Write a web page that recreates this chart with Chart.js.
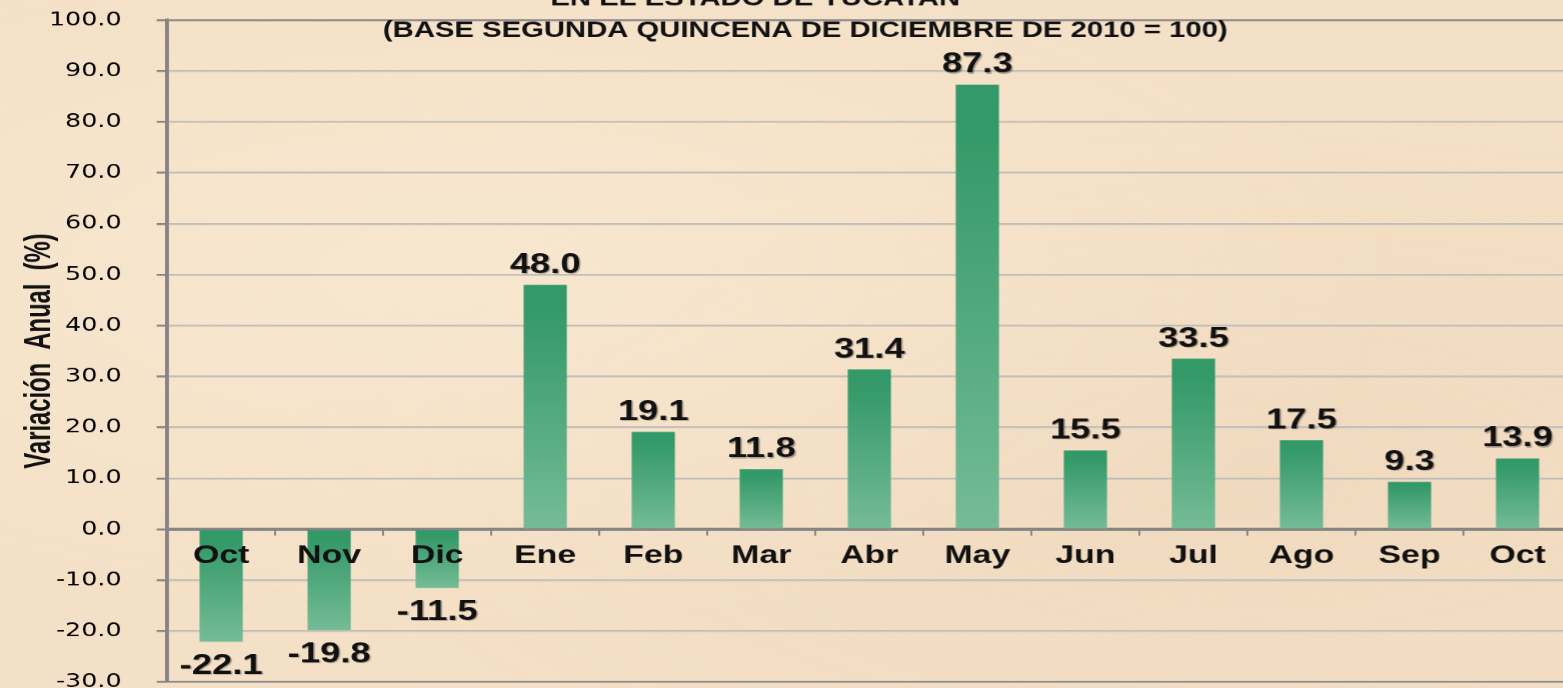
<!DOCTYPE html>
<html>
<head>
<meta charset="utf-8">
<script src="https://cdn.jsdelivr.net/npm/chart.js@4.4.1/dist/chart.umd.min.js"></script>
<style>
  html, body { margin: 0; padding: 0; overflow: hidden; width: 1563px; height: 688px; }
  body {
    background-color: #f4e0c6;
    background-image:
      radial-gradient(ellipse at 30% 40%, rgba(250, 236, 214, 0.6), rgba(250, 236, 214, 0) 60%),
      radial-gradient(ellipse at 80% 70%, rgba(236, 212, 184, 0.5), rgba(236, 212, 184, 0) 55%);
  }
  /* the reference is a horizontally stretched picture, so the whole chart is widened */
  #wrap { position: absolute; left: 0; top: 0; width: 1215px; height: 700px; transform: scaleX(1.3); transform-origin: 0 0; }
</style>
</head>
<body>
<div id="wrap"><canvas id="chart"></canvas></div>
<script>
const STRETCH = 1.3;

const months = ['Oct', 'Nov', 'Dic', 'Ene', 'Feb', 'Mar', 'Abr', 'May', 'Jun', 'Jul', 'Ago', 'Sep', 'Oct'];
const annualChange = [-22.1, -19.8, -11.5, 48.0, 19.1, 11.8, 31.4, 87.3, 15.5, 33.5, 17.5, 9.3, 13.9];
const yMin = -30;
const yMax = 100;
const yStep = 10;
const titleLines = ['EN EL ESTADO DE YUCATAN', '(BASE SEGUNDA QUINCENA DE DICIEMBRE DE 2010 = 100)'];
const yTitle = 'Variación  Anual  (%)';

function barGradient(context) {
  const chart = context.chart;
  const y = chart.scales.y;
  if (!y || context.raw === undefined) return '#35996a';
  const v = context.raw;
  const top = y.getPixelForValue(Math.max(v, 0));
  const bottom = y.getPixelForValue(Math.min(v, 0));
  if (!isFinite(top) || !isFinite(bottom) || top === bottom) return '#35996a';
  const g = chart.ctx.createLinearGradient(0, top, 0, bottom);
  g.addColorStop(0, '#349968');
  g.addColorStop(0.12, '#359a69');
  g.addColorStop(1, '#75bc97');
  return g;
}

const valueLabels = {
  id: 'valueLabels',
  afterDatasetsDraw(chart) {
    const ctx = chart.ctx;
    const meta = chart.getDatasetMeta(0);
    ctx.save();
    ctx.font = 'bold 28px "Liberation Sans", Arial, sans-serif';
    ctx.fillStyle = '#111';
    ctx.textAlign = 'center';
    ctx.textBaseline = 'alphabetic';
    ctx.shadowColor = 'rgba(0, 0, 0, 0.3)';
    ctx.shadowOffsetX = 1.5;
    ctx.shadowOffsetY = 1.5;
    ctx.shadowBlur = 1;
    meta.data.forEach((bar, i) => {
      const v = annualChange[i];
      const y = v >= 0 ? bar.y - 12 : bar.y + 32;
      ctx.fillText(v.toFixed(1), bar.x, y);
    });
    ctx.restore();
  }
};

const titles = {
  id: 'titles',
  afterDraw(chart) {
    const ctx = chart.ctx;
    ctx.save();
    ctx.fillStyle = '#111';
    ctx.textAlign = 'center';
    ctx.textBaseline = 'alphabetic';
    ctx.font = 'bold 22.5px "Liberation Sans", Arial, sans-serif';
    ctx.fillText(titleLines[0], 755 / STRETCH, 5);
    ctx.fillText(titleLines[1], 805 / STRETCH, 37);

    // axis title: narrow bold face, baseline near x = 50 on screen
    ctx.translate(50 / STRETCH, 351);
    ctx.rotate(-Math.PI / 2);
    ctx.scale(0.82, 1);
    ctx.font = 'bold 29px "Liberation Sans", Arial, sans-serif';
    ctx.fillText(yTitle, 0, 0);
    ctx.restore();
  }
};

new Chart(document.getElementById('chart'), {
  type: 'bar',
  data: {
    labels: months,
    datasets: [{
      data: annualChange,
      backgroundColor: barGradient,
      borderWidth: 0,
      barPercentage: 0.4,
      categoryPercentage: 1.0
    }]
  },
  options: {
    responsive: true,
    maintainAspectRatio: false,
    devicePixelRatio: STRETCH,
    animation: false,
    layout: { padding: { left: 0, right: 6.5, top: 20, bottom: 18 } },
    plugins: {
      legend: { display: false },
      tooltip: { enabled: false },
      title: { display: false }
    },
    scales: {
      x: {
        position: { y: 0 },
        offset: true,
        afterFit(scale) { scale.height = 0; },
        ticks: {
          z: 1,
          autoSkip: false,
          maxRotation: 0,
          padding: 6,
          color: '#111',
          font: { family: '"Liberation Sans", Arial, sans-serif', weight: 'bold', size: 26 }
        },
        grid: { z: 1, offset: true, drawOnChartArea: false, tickLength: 5, tickColor: '#858585', lineWidth: 1.5 },
        border: { color: '#858585', width: 3 }
      },
      y: {
        min: yMin,
        max: yMax,
        afterFit(scale) {
          scale.width = 128.5;
          scale.paddingTop = 0;
          scale.paddingBottom = 0;
        },
        ticks: {
          stepSize: yStep,
          padding: 27,
          color: '#000',
          font: { family: '"DejaVu Sans", sans-serif', size: 19.5 },
          callback: v => v.toFixed(1)
        },
        grid: {
          color: c => (c.tick && (c.tick.value === yMax || c.tick.value === yMin)) ? '#8c8c8c' : '#c2bfba',
          lineWidth: 2,
          tickLength: 8,
          tickColor: '#858585'
        },
        border: { color: '#858585', width: 3 }
      }
    }
  },
  plugins: [valueLabels, titles]
});
</script>
</body>
</html>
